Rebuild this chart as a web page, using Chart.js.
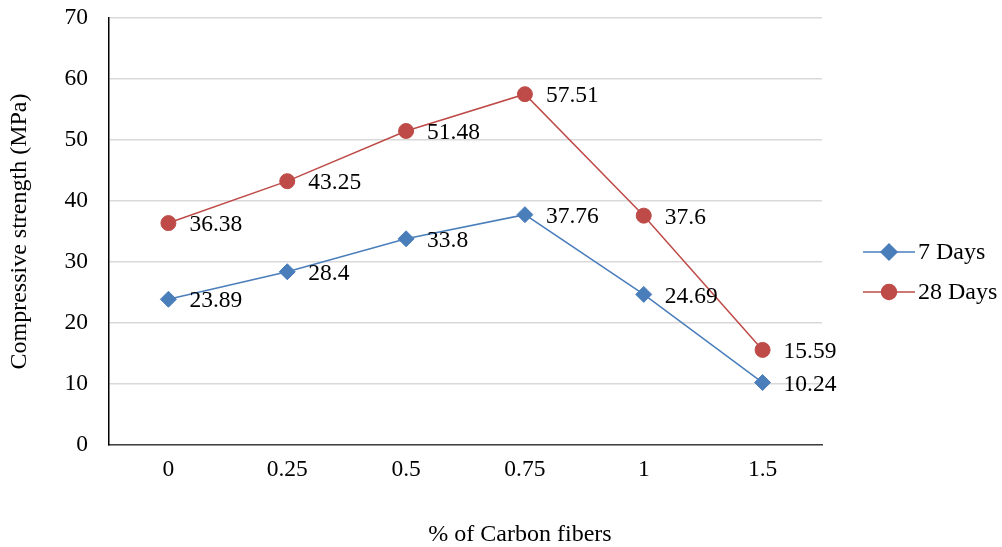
<!DOCTYPE html>
<html>
<head>
<meta charset="utf-8">
<script src="https://cdn.jsdelivr.net/npm/chart.js@4"></script>
<style>
html,body{margin:0;padding:0;background:#fff;}
#wrap{width:1002px;height:547px;position:relative;}
</style>
</head>
<body>
<div id="wrap"><canvas id="c" width="1002" height="547"></canvas></div>
<script>
const categories = ['0', '0.25', '0.5', '0.75', '1', '1.5'];
const days7 = [23.89, 28.4, 33.8, 37.76, 24.69, 10.24];
const days28 = [36.38, 43.25, 51.48, 57.51, 37.6, 15.59];
const seriesNames = ['7 Days', '28 Days'];
const yTitle = 'Compressive strength (MPa)';
const xTitle = '% of Carbon fibers';

const FONT = "'Liberation Serif', 'Times New Roman', serif";
const BLUE = '#4A7EBB';
const RED = '#BE4B48';

const labelPlugin = {
  id: 'valueLabels',
  afterDatasetsDraw(chart) {
    const ctx = chart.ctx;
    ctx.save();
    ctx.font = '23.5px ' + FONT;
    ctx.fillStyle = '#000';
    ctx.textAlign = 'left';
    ctx.textBaseline = 'middle';
    chart.data.datasets.forEach((ds, i) => {
      const meta = chart.getDatasetMeta(i);
      meta.data.forEach((pt, j) => {
        ctx.fillText(String(ds.data[j]), pt.x + 21, pt.y + 2);
      });
    });
    ctx.restore();
  }
};

const legendPlugin = {
  id: 'sideLegend',
  afterDraw(chart) {
    const ctx = chart.ctx;
    ctx.save();
    chart.data.datasets.forEach((ds, i) => {
      const y = 252 + i * 40;
      ctx.strokeStyle = ds.borderColor;
      ctx.lineWidth = 1.5;
      ctx.beginPath();
      ctx.moveTo(863, y);
      ctx.lineTo(915, y);
      ctx.stroke();
      ctx.fillStyle = ds.pointBackgroundColor;
      ctx.strokeStyle = ds.pointBorderColor;
      Chart.helpers.drawPoint(ctx, {
        pointStyle: ds.pointStyle,
        radius: ds.pointRadius,
        rotation: 0,
        borderWidth: 1
      }, 889, y);
      ctx.fillStyle = '#000';
      ctx.font = '24px ' + FONT;
      ctx.textAlign = 'left';
      ctx.textBaseline = 'middle';
      ctx.fillText(ds.label, 918, y + 1);
    });
    // x axis title
    ctx.fillStyle = '#000';
    ctx.font = '24px ' + FONT;
    ctx.textAlign = 'center';
    ctx.textBaseline = 'middle';
    ctx.fillText(xTitle, 520, 535);
    ctx.restore();
  }
};

new Chart(document.getElementById('c'), {
  type: 'line',
  data: {
    labels: categories,
    datasets: [
      {
        label: seriesNames[0],
        data: days7,
        borderColor: BLUE,
        backgroundColor: BLUE,
        pointBackgroundColor: BLUE,
        pointBorderColor: BLUE,
        borderWidth: 1.5,
        pointStyle: 'rectRot',
        pointRadius: 8,
        pointHoverRadius: 8,
        pointBorderWidth: 1,
        tension: 0
      },
      {
        label: seriesNames[1],
        data: days28,
        borderColor: RED,
        backgroundColor: RED,
        pointBackgroundColor: RED,
        pointBorderColor: RED,
        borderWidth: 1.5,
        pointStyle: 'circle',
        pointRadius: 7.5,
        pointHoverRadius: 7.5,
        pointBorderWidth: 1,
        tension: 0
      }
    ]
  },
  options: {
    responsive: false,
    animation: false,
    devicePixelRatio: 1,
    layout: { padding: { left: 0, right: 180, top: 18, bottom: 0 } },
    plugins: {
      legend: { display: false },
      tooltip: { enabled: false }
    },
    scales: {
      x: {
        offset: true,
        grid: { display: false, drawTicks: false },
        border: { display: true, color: '#404040', width: 1.5 },
        ticks: {
          color: '#000',
          font: { family: FONT, size: 23.5, lineHeight: 1.2 },
          padding: 11,
          maxRotation: 0,
          autoSkip: false
        },
        afterFit(scale) { scale.height = 102; }
      },
      y: {
        min: 0,
        max: 70,
        ticks: {
          stepSize: 10,
          color: '#000',
          font: { family: FONT, size: 23.5 },
          padding: 21
        },
        grid: { color: '#D9D9D9', lineWidth: 1.5, drawTicks: false },
        border: { display: true, color: '#000', width: 1.5 },
        title: {
          display: true,
          text: yTitle,
          color: '#000',
          font: { family: FONT, size: 24, lineHeight: 1 },
          padding: { top: 8, bottom: 0 }
        },
        afterFit(scale) {
          scale.width = 109;
          scale.paddingTop = 0;
          scale.paddingBottom = 0;
        }
      }
    }
  },
  plugins: [labelPlugin, legendPlugin]
});
</script>
</body>
</html>
